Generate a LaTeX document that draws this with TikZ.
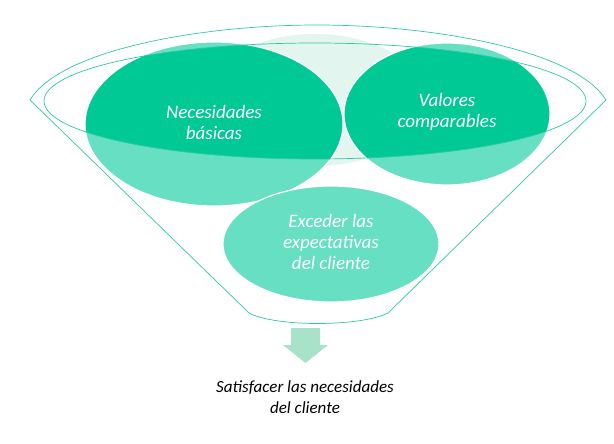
\documentclass[tikz,border=0pt]{standalone}
\usepackage{fontspec}
\setmainfont{Carlito}
\begin{document}
\begin{tikzpicture}[x=1pt,y=-1pt,
  edge/.style={draw=teal!60!green!70, line width=0.6pt},
  lbl/.style={text=white, font=\itshape\fontsize{19}{21}\selectfont, align=center}]
\definecolor{dk}{HTML}{00C995}
\definecolor{lt}{HTML}{66DFC3}
\definecolor{pale}{HTML}{E2F5EE}
\definecolor{arr}{HTML}{A8E2C8}
\definecolor{ln}{HTML}{2CC9A4}
\useasboundingbox (0,0) rectangle (614,444);
% funnel outline
\draw[ln, line width=0.7pt] (30,100) .. controls (60,50) and (200,25) .. (317,25) .. controls (434,25) and (575,50) .. (606,100) -- (388,313) .. controls (360,327) and (275,327) .. (249,313) -- cycle;
% pale center
\fill[pale] (315,100) ellipse (110 and 66);
% circles light
\fill[lt, draw=white, line width=1.2pt] (447,114) ellipse (103 and 71);
\fill[lt, draw=white, line width=1.2pt] (214,124) ellipse (129 and 82);
\fill[lt, draw=white, line width=1.2pt] (331,244) ellipse (108 and 58);
% dark parts inside inner ellipse
\begin{scope}
\clip (315,101) ellipse (271 and 58);
\fill[dk, draw=white, line width=1.2pt] (447,114) ellipse (103 and 71);
\fill[dk, draw=white, line width=1.2pt] (214,124) ellipse (129 and 82);
\end{scope}
\draw[ln, line width=0.7pt] (315,101) ellipse (271 and 58);
\node[lbl] (n1) at (214,122) {Necesidades\\básicas};
\node[lbl] (n2) at (447,112) {Valores\\comparables};
\node[lbl] (n3) at (331,242) {Exceder las\\expectativas\\del cliente};
% arrow
\fill[arr] (291,328) -- (320,328) -- (320,345) -- (328,345) -- (305.5,363) -- (283,345) -- (291,345) -- cycle;
\node[font=\itshape\fontsize{17}{21}\selectfont, align=center] (t) at (305,397) {Satisfacer las necesidades\\del cliente};
\end{tikzpicture}
\end{document}
